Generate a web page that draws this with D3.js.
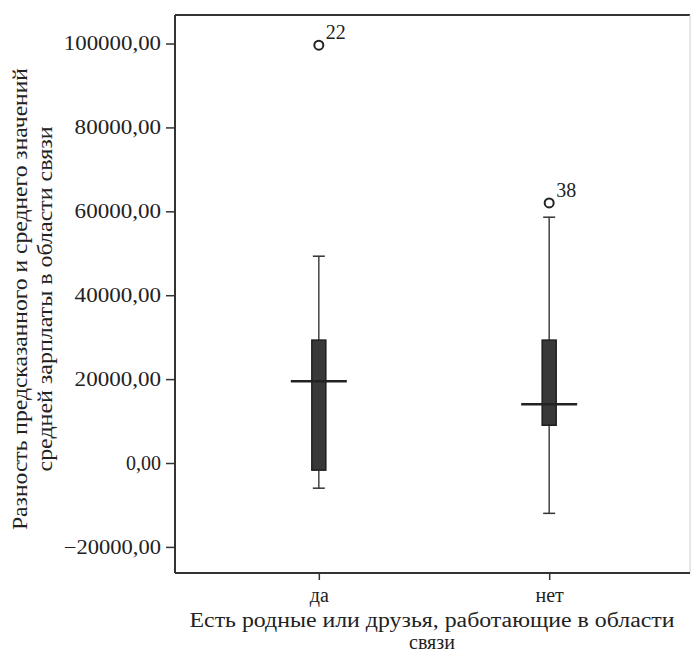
<!DOCTYPE html>
<html><head><meta charset="utf-8">
<script src="https://cdn.jsdelivr.net/npm/d3@7"></script>
<style>body{margin:0;background:#fff}svg{display:block}svg text{font-family:"Liberation Serif","Times New Roman",Tinos,"DejaVu Serif",serif !important;fill:#222}</style>
</head><body><svg id="c" width="693" height="657"></svg>
<script>
const categories = ["да", "нет"];
const whiskerLow = [-6000, -12000];
const q1 = [-1700, 9000];
const median = [19500, 14000];
const q3 = [29300, 29300];
const whiskerHigh = [49300, 58600];
const outlierValues = [99600, 62000];
const outlierLabels = ["22", "38"];
const yTicks = [-20000, 0, 20000, 40000, 60000, 80000, 100000];

const FONT = '"Liberation Serif","Times New Roman",Tinos,"DejaVu Serif",serif';
const svg = d3.select("#c");
const L = 175, R = 690, T = 15, B = 573;
const x = d3.scalePoint().domain(categories).range([176, 692]).padding(0.62);
const y = d3.scaleLinear().domain([-26220, 106800]).range([B, T]);
const fmt = v => d3.format(".2f")(v).replace(".", ",").replace("-", "\u2013");

// frame
svg.append("line").attr("x1", L).attr("x2", R).attr("y1", T).attr("y2", T).attr("stroke", "#333").attr("stroke-width", 2);
svg.append("line").attr("x1", R).attr("x2", R).attr("y1", T).attr("y2", B).attr("stroke", "#ccc").attr("stroke-width", 1);

const yAxis = svg.append("g").attr("transform", `translate(${L},0)`)
  .call(d3.axisLeft(y).tickValues(yTicks).tickFormat(fmt).tickSize(9).tickPadding(5));
yAxis.attr("font-family", FONT);
yAxis.select(".domain").attr("stroke", "#333").attr("stroke-width", 2).attr("d", `M0,${T}V${B}`);
yAxis.selectAll(".tick line").attr("stroke", "#333").attr("stroke-width", 1.5);
yAxis.selectAll("text").attr("font-size", 20).attr("fill", "#222")
  .attr("textLength", function() { return this.textContent.length > 6 ? 10.8 * this.textContent.length : null; })
  .attr("lengthAdjust", "spacingAndGlyphs");

const xAxis = svg.append("g").attr("transform", `translate(0,${B})`)
  .call(d3.axisBottom(x).tickSize(7).tickPadding(8));
xAxis.attr("font-family", FONT);
xAxis.select(".domain").attr("stroke", "#333").attr("stroke-width", 2).attr("d", `M${L},0H${R}`);
xAxis.selectAll(".tick line").attr("stroke", "#333").attr("stroke-width", 1.5);
xAxis.selectAll("text").attr("font-size", 20).attr("fill", "#222");

const g = svg.append("g");
categories.forEach((c, i) => {
  const cx = x(c);
  g.append("line").attr("x1", cx).attr("x2", cx).attr("y1", y(whiskerHigh[i])).attr("y2", y(q3[i])).attr("stroke", "#444").attr("stroke-width", 1.5);
  g.append("line").attr("x1", cx).attr("x2", cx).attr("y1", y(q1[i])).attr("y2", y(whiskerLow[i])).attr("stroke", "#444").attr("stroke-width", 1.5);
  [whiskerHigh[i], whiskerLow[i]].forEach(v => {
    g.append("line").attr("x1", cx - 6).attr("x2", cx + 6).attr("y1", y(v)).attr("y2", y(v)).attr("stroke", "#333").attr("stroke-width", 1.5);
  });
  g.append("rect").attr("x", cx - 7).attr("width", 14).attr("y", y(q3[i])).attr("height", y(q1[i]) - y(q3[i]))
    .attr("fill", "#383838").attr("stroke", "#1e1e1e").attr("stroke-width", 1.5);
  g.append("line").attr("x1", cx - 28).attr("x2", cx + 28).attr("y1", y(median[i])).attr("y2", y(median[i])).attr("stroke", "#222").attr("stroke-width", 2.5);
  g.append("circle").attr("cx", cx).attr("cy", y(outlierValues[i])).attr("r", 4.5).attr("fill", "none").attr("stroke", "#222").attr("stroke-width", 2);
  g.append("text").attr("x", cx + 7).attr("y", y(outlierValues[i]) - 6).attr("font-size", 20).text(outlierLabels[i]);
});

// axis titles
svg.append("text").attr("x", 432).attr("y", 627).attr("text-anchor", "middle").attr("font-size", 20)
  .attr("textLength", 485).attr("lengthAdjust", "spacingAndGlyphs").text("Есть родные или друзья, работающие в области");
svg.append("text").attr("x", 432).attr("y", 649).attr("text-anchor", "middle").attr("font-size", 20).text("связи");

const yl = svg.append("text").attr("transform", "translate(0,299) rotate(-90)").attr("text-anchor", "middle").attr("font-size", 20);
yl.append("tspan").attr("x", 0).attr("y", 27).attr("textLength", 462).attr("lengthAdjust", "spacingAndGlyphs").text("Разность предсказанного и среднего значений");
yl.append("tspan").attr("x", 0).attr("y", 52).attr("textLength", 345).attr("lengthAdjust", "spacingAndGlyphs").text("средней зарплаты в области связи");
</script></body></html>
